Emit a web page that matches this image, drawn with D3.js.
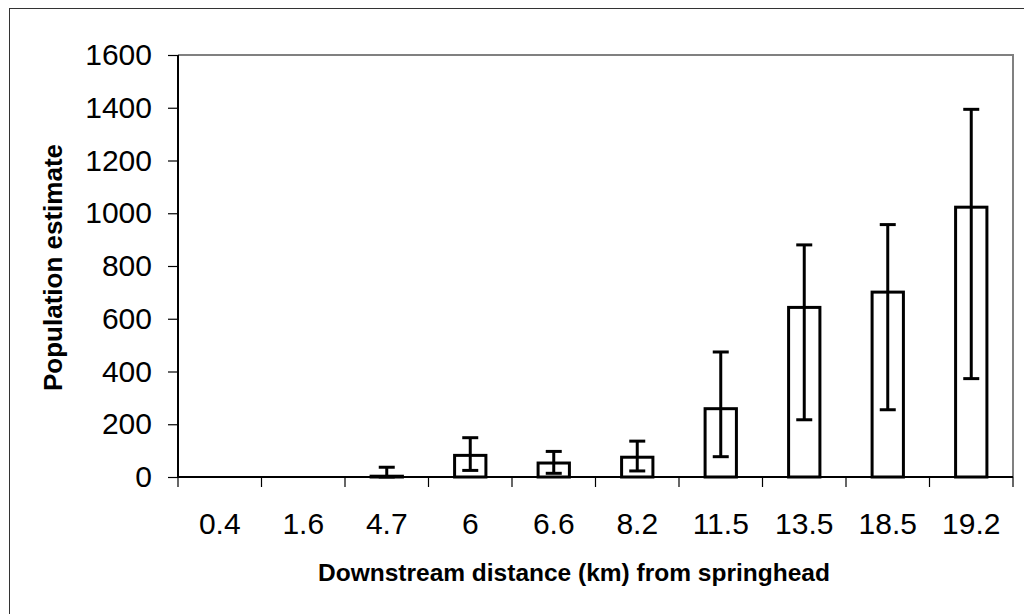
<!DOCTYPE html>
<html>
<head>
<meta charset="utf-8">
<script src="https://cdn.jsdelivr.net/npm/d3@7"></script>
<style>
    body { margin: 0; background: #fff; }
    svg { display: block; font-family: "Liberation Sans", Arial, sans-serif; }
</style>
</head>
<body>
<div id="chart"></div>
<script>
// distances (km) from springhead
const sites = ["0.4", "1.6", "4.7", "6", "6.6", "8.2", "11.5", "13.5", "18.5", "19.2"];
const estimates = [0, 0, 3, 82, 53, 75, 259, 643, 701, 1023];
const upperCI = [null, null, 37, 149, 97, 136, 474, 880, 957, 1394];
const lowerCI = [null, null, 0, 25, 14, 23, 77, 217, 255, 373];
const yTicks = [0, 200, 400, 600, 800, 1000, 1200, 1400, 1600];

const W = 1024, H = 614;
const margin = { top: 55, right: 11, bottom: 137, left: 178 };
const width = W - margin.left - margin.right;
const height = H - margin.top - margin.bottom;

const svg = d3.select("#chart").append("svg")
    .attr("width", W)
    .attr("height", H);

// outer chart border (runs off the right and bottom edges)
svg.append("rect")
    .attr("x", 9.5).attr("y", 8.5)
    .attr("width", W + 20).attr("height", H + 20)
    .attr("fill", "none")
    .attr("stroke", "#333")
    .attr("stroke-width", 1);

const g = svg.append("g")
    .attr("transform", `translate(${margin.left},${margin.top})`);

const x = d3.scaleBand()
    .domain(sites)
    .range([0, width])
    .paddingInner(0.625)
    .paddingOuter(0.3125);

const y = d3.scaleLinear()
    .domain([0, 1600])
    .range([height, 0]);

// plot area frame (top and right in grey)
g.append("path")
    .attr("d", `M0,0H${width}V${height}`)
    .attr("fill", "none")
    .attr("stroke", "#808080")
    .attr("stroke-width", 2);

// y axis
const yAxis = g.append("g")
    .call(d3.axisLeft(y).tickValues(yTicks).tickFormat(d3.format("d")).tickSize(10).tickPadding(16));
yAxis.select(".domain").attr("stroke", "#000").attr("stroke-width", 2)
    .attr("d", `M0,0V${height}`);
yAxis.selectAll(".tick line").attr("stroke", "#000").attr("stroke-width", 1.2);
yAxis.selectAll("text")
    .style("font-size", "30px")
    .attr("fill", "#000")
    .style("font-family", "Liberation Sans, Arial, sans-serif");

// x axis: ticks sit between categories
const step = x.step();
const xAxis = g.append("g")
    .attr("transform", `translate(0,${height})`);
xAxis.append("line")
    .attr("x1", 0).attr("x2", width)
    .attr("stroke", "#000").attr("stroke-width", 2);
xAxis.selectAll(".xtick")
    .data(d3.range(sites.length + 1))
    .enter().append("line")
    .attr("x1", i => i * step).attr("x2", i => i * step)
    .attr("y1", 0).attr("y2", 10)
    .attr("stroke", "#000").attr("stroke-width", 1.2);
xAxis.selectAll(".xlabel")
    .data(sites)
    .enter().append("text")
    .attr("x", d => x(d) + x.bandwidth() / 2)
    .attr("y", 56.5)
    .attr("text-anchor", "middle")
    .style("font-size", "30px")
    .text(d => d);

// bars
const data = sites.map((s, i) => ({ site: s, v: estimates[i], hi: upperCI[i], lo: lowerCI[i] }));

g.selectAll(".bar")
    .data(data.filter(d => d.v > 0))
    .enter().append("rect")
    .attr("x", d => x(d.site))
    .attr("y", d => y(d.v))
    .attr("width", x.bandwidth())
    .attr("height", d => y(0) - y(d.v))
    .attr("fill", "#fff")
    .attr("stroke", "#000")
    .attr("stroke-width", 3);

// error bars
const eb = g.selectAll(".err")
    .data(data.filter(d => d.hi !== null))
    .enter().append("g")
    .attr("transform", d => `translate(${x(d.site) + x.bandwidth() / 2},0)`);
eb.append("line")
    .attr("y1", d => y(d.hi)).attr("y2", d => y(d.lo))
    .attr("stroke", "#000").attr("stroke-width", 3);
eb.append("line")
    .attr("x1", -8).attr("x2", 8)
    .attr("y1", d => y(d.hi)).attr("y2", d => y(d.hi))
    .attr("stroke", "#000").attr("stroke-width", 3);
eb.append("line")
    .attr("x1", -8).attr("x2", 8)
    .attr("y1", d => y(d.lo)).attr("y2", d => y(d.lo))
    .attr("stroke", "#000").attr("stroke-width", 3);

// axis titles
svg.append("text")
    .attr("x", 318)
    .attr("y", 581)
    .style("font-size", "24.5px")
    .attr("font-weight", "bold")
    .text("Downstream distance (km) from springhead");

svg.append("text")
    .attr("transform", "translate(62,391) rotate(-90)")
    .style("font-size", "26px")
    .attr("font-weight", "bold")
    .text("Population estimate");
</script>
</body>
</html>
